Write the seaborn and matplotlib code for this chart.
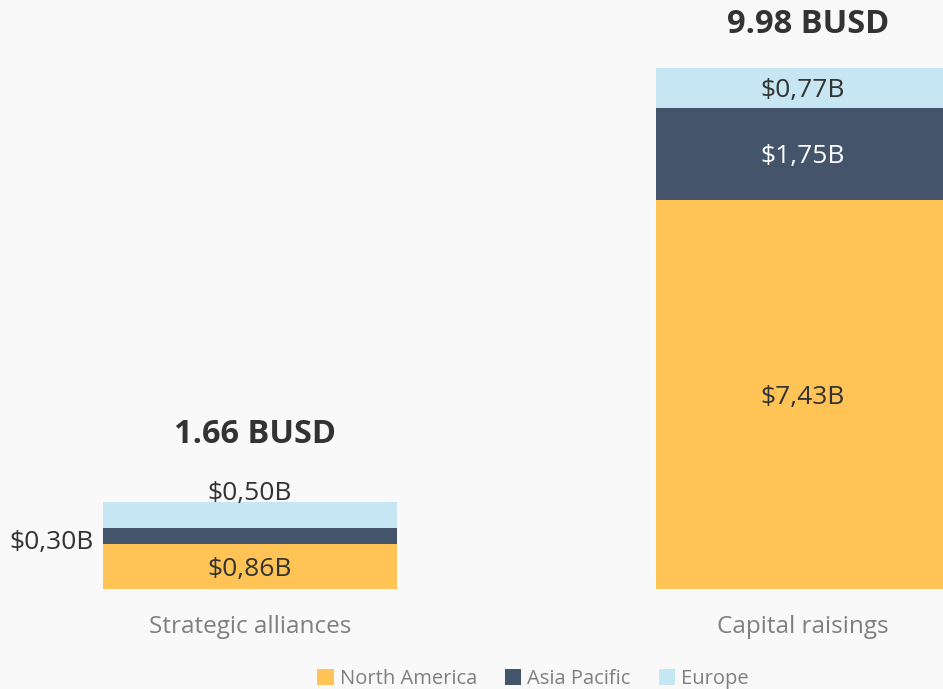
import matplotlib
matplotlib.use("Agg")
import matplotlib.pyplot as plt
import seaborn as sns
import pandas as pd
import numpy as np
from matplotlib.patches import Patch

categories = ["Strategic alliances", "Capital raisings"]
north_america = [0.86, 7.43]
asia_pacific = [0.30, 1.75]
europe = [0.50, 0.77]
totals = [1.66, 9.98]
series_names = ["North America", "Asia Pacific", "Europe"]
colors = ["#FFC455", "#44546A", "#C5E6F2"]

sns.set_theme(style="white")
plt.rcParams["font.family"] = ["Open Sans", "DejaVu Sans"]

BG = "#F9F9F9"
fig = plt.figure(figsize=(9.43, 6.89), dpi=100, facecolor=BG)
ax = fig.add_axes([0, 100 / 689, 1, 589 / 689])
ax.set_facecolor(BG)

df = pd.DataFrame({
    "category": categories,
    "na": north_america,
    "ap": asia_pacific,
    "eu": europe,
})
df["cum_na"] = df["na"]
df["cum_ap"] = df["na"] + df["ap"]
df["cum_eu"] = df["na"] + df["ap"] + df["eu"]

width = 0.53
for col, c in [("cum_eu", colors[2]), ("cum_ap", colors[1]), ("cum_na", colors[0])]:
    sns.barplot(data=df, x="category", y=col, color=c, width=width,
                saturation=1, ax=ax, linewidth=0)

ax.set_xlim(-250 / 553, (943 - 250) / 553)
ax.set_ylim(0, 589 / 52.4)
ax.set_xlabel("")
ax.set_ylabel("")
ax.set_yticks([])
ax.tick_params(axis="x", length=0, pad=19, labelsize=17.5, labelcolor="#7F7F7F")
for s in ax.spines.values():
    s.set_visible(False)

txt = "#333333"
fs = 19


def put(x, y, s, dx=0, dy=-3, ha="center", color=txt):
    ax.annotate(s, (x, y), xytext=(dx, dy), textcoords="offset pixels",
                ha=ha, va="center", fontsize=fs, color=color)


for i in range(len(categories)):
    na, ap, eu = north_america[i], asia_pacific[i], europe[i]
    lab = lambda v: "$" + f"{v:.2f}".replace(".", ",") + "B"
    small = (na + ap + eu) < 3
    put(i, na / 2, lab(na))
    if small:
        put(i - width / 2, na + ap / 2, lab(ap), dx=-10, dy=-6, ha="right")
        put(i, na + ap + eu, lab(eu), dy=9)
    else:
        put(i, na + ap / 2, lab(ap), color="white")
        put(i, na + ap + eu / 2, lab(eu))
    off = 68 if small else 42
    ax.annotate(f"{totals[i]:.2f} BUSD", (i, totals[i]), xytext=(5, off),
                textcoords="offset pixels",
                ha="center", va="center", fontsize=23.5, fontweight="bold", color=txt)

handles = [Patch(facecolor=c, edgecolor="none") for c in colors]
fig.legend(handles, series_names, loc="center", bbox_to_anchor=(533 / 943, 1 - 679 / 689),
           ncol=3, frameon=False, fontsize=14.5, labelcolor="#7F7F7F",
           handlelength=0.8, handleheight=0.8, handletextpad=0.3, columnspacing=1.4)

fig.savefig("out.png", dpi=100, facecolor=BG)
